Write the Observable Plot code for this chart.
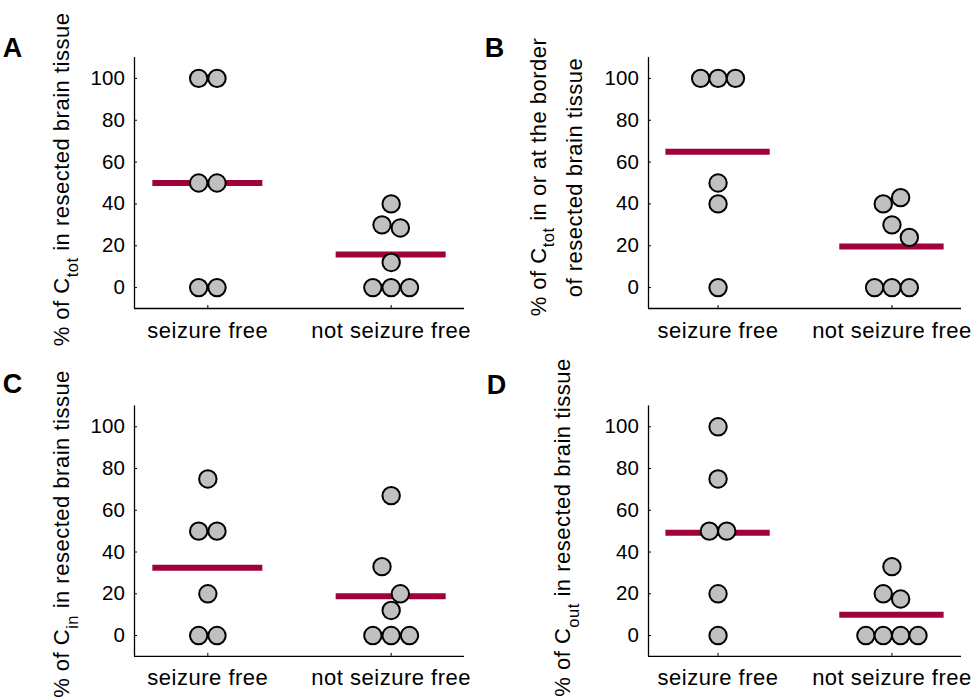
<!DOCTYPE html>
<html>
<head>
<meta charset="utf-8">
<script src="https://cdn.jsdelivr.net/npm/d3@7"></script>
<script src="https://cdn.jsdelivr.net/npm/@observablehq/plot@0.6"></script>
<style>
html, body { margin: 0; padding: 0; background: #fff; }
#fig { position: relative; width: 973px; height: 699px; overflow: hidden; background: #fff; }
.panel { position: absolute; }
.panel svg { display: block; max-width: none !important; }
g[aria-label="x-axis tick label"] { letter-spacing: 0.5px; }
</style>
</head>
<body>
<div id="fig"></div>
<script>
// ---- data ----
const groups = ["seizure free", "not seizure free"];
const yTicks = [0, 20, 40, 60, 80, 100];
const yDomain = [-10, 110];
const xDomain = [0.6, 2.4];

// Panel A: % of C_tot in resected brain tissue
const aSF = [100, 100, 50, 50, 0, 0];
const aSFslot = [-0.5, 0.5, -0.5, 0.5, -0.5, 0.5];
const aNSF = [40, 30, 28.5, 12, 0, 0, 0];
const aNSFslot = [0, -0.5, 0.5, 0, -1, 0, 1];
const aMean = [50, 15.8];

// Panel B: % of C_tot in or at the border of resected brain tissue
const bSF = [100, 100, 100, 50, 40, 0];
const bSFslot = [-1, 0, 1, 0, 0, 0];
const bNSF = [43, 40, 30, 24, 0, 0, 0];
const bNSFslot = [0.5, -0.5, 0, 1, -1, 0, 1];
const bMean = [65, 19.6];

// Panel C: % of C_in in resected brain tissue
const cSF = [75, 50, 50, 20, 0, 0];
const cSFslot = [0, -0.5, 0.5, 0, -0.5, 0.5];
const cNSF = [67, 33, 20, 12, 0, 0, 0];
const cNSFslot = [0, -0.5, 0.5, 0, -1, 0, 1];
const cMean = [32.5, 18.8];

// Panel D: % of C_out in resected brain tissue
const dSF = [100, 75, 50, 50, 20, 0];
const dSFslot = [0, 0, -0.5, 0.5, 0, 0];
const dNSF = [33, 20, 17.5, 0, 0, 0, 0];
const dNSFslot = [0, -0.5, 0.5, -1.5, -0.5, 0.5, 1.5];
const dMean = [49.2, 10];

// ---- styling ----
const FONT = "'Liberation Sans', Arial, Helvetica, sans-serif";
const RED = "#a0003c";
const GRAY = "#c0c0c0";
const slotStep = 0.1;
const halfBar = 0.3;

function panel(cfg) {
  const pts = [
    ...cfg.sf.map((v, i) => ({g: 1, slot: cfg.sfSlot[i], v})),
    ...cfg.nsf.map((v, i) => ({g: 2, slot: cfg.nsfSlot[i], v}))
  ];
  const bars = cfg.means.map((m, i) => ({g: i + 1, m}));
  const chart = Plot.plot({
    width: cfg.width,
    height: cfg.height,
    marginLeft: cfg.marginLeft,
    marginRight: cfg.marginRight,
    marginTop: cfg.marginTop,
    marginBottom: cfg.marginBottom,
    style: {fontFamily: FONT, fontSize: "20.5px", color: "black", background: "white"},
    x: {domain: xDomain, label: null},
    y: {domain: yDomain, label: null},
    marks: [
      Plot.ruleX([xDomain[0]], {stroke: "black", strokeWidth: 1.3}),
      Plot.ruleY([yDomain[0]], {stroke: "black", strokeWidth: 1.3}),
      Plot.axisY({ticks: yTicks, anchor: "left", tickSize: -3, tickPadding: 12.7, fontSize: 20.5, label: null, tickFormat: d => String(d)}),
      Plot.axisX({ticks: [1, 2], anchor: "bottom", tickSize: -3, tickPadding: 16.4, fontSize: 22, label: null, tickFormat: d => groups[d - 1]}),
      Plot.ruleY(bars, {y: "m", x1: d => d.g - halfBar, x2: d => d.g + halfBar, stroke: RED, strokeWidth: 6}),
      Plot.dot(pts, {x: d => d.g + d.slot * slotStep, y: "v", r: 8.7, fill: GRAY, stroke: "black", strokeWidth: 2})
    ]
  });
  const svg = d3.select(chart);
  // panel letter
  svg.append("text")
    .attr("x", cfg.letterX).attr("y", cfg.letterY)
    .attr("font-family", FONT).attr("font-weight", "bold").attr("font-size", 27)
    .attr("fill", "black")
    .text(cfg.letter);
  // y labels (with subscript)
  cfg.ylabels.forEach(lab => {
    const t = svg.append("text")
      .attr("transform", `translate(${lab.x},${lab.y}) rotate(-90)`)
      .attr("text-anchor", "middle")
      .attr("font-family", FONT).attr("font-size", 22)
      .attr("letter-spacing", "0.5px")
      .attr("fill", "black");
    lab.parts.forEach(p => {
      const s = t.append("tspan").text(p.text);
      if (p.sub) s.attr("font-size", 16.5).attr("dy", 8.5);
      if (p.after) s.attr("dy", -8.5);
    });
  });
  const div = document.createElement("div");
  div.className = "panel";
  div.style.left = cfg.left + "px";
  div.style.top = cfg.top + "px";
  div.style.width = cfg.width + "px";
  div.style.height = cfg.height + "px";
  div.appendChild(chart);
  document.getElementById("fig").appendChild(div);
}

const rest = " in resected brain tissue";

panel({
  left: 0, top: 0, width: 480, height: 350,
  marginLeft: 134, marginRight: 16, marginTop: 57, marginBottom: 42,
  sf: aSF, sfSlot: aSFslot, nsf: aNSF, nsfSlot: aNSFslot, means: aMean,
  letter: "A", letterX: 12.5, letterY: 57,
  ylabels: [{x: 69, y: 179.5, parts: [{text: "% of C"}, {text: "tot", sub: true}, {text: rest, after: true}]}]
});

panel({
  left: 480, top: 0, width: 493, height: 350,
  marginLeft: 168, marginRight: 12, marginTop: 57, marginBottom: 42,
  sf: bSF, sfSlot: bSFslot, nsf: bNSF, nsfSlot: bNSFslot, means: bMean,
  letter: "B", letterX: 14.5, letterY: 57,
  ylabels: [
    {x: 65.5, y: 177, parts: [{text: "% of C"}, {text: "tot", sub: true}, {text: " in or at the border", after: true}]},
    {x: 102, y: 177.5, parts: [{text: "of resected brain tissue"}]}
  ]
});

panel({
  left: 0, top: 350, width: 480, height: 349,
  marginLeft: 134, marginRight: 16, marginTop: 55.4, marginBottom: 43.1,
  sf: cSF, sfSlot: cSFslot, nsf: cNSF, nsfSlot: cNSFslot, means: cMean,
  letter: "C", letterX: 12.5, letterY: 43,
  ylabels: [{x: 69, y: 184, parts: [{text: "% of C"}, {text: "in", sub: true}, {text: rest, after: true}]}]
});

panel({
  left: 480, top: 350, width: 493, height: 349,
  marginLeft: 168, marginRight: 12, marginTop: 55.4, marginBottom: 43.1,
  sf: dSF, sfSlot: dSFslot, nsf: dNSF, nsfSlot: dNSFslot, means: dMean,
  letter: "D", letterX: 16.5, letterY: 44,
  ylabels: [{x: 90, y: 177.5, parts: [{text: "% of C"}, {text: "out", sub: true}, {text: rest, after: true}]}]
});
</script>
</body>
</html>
